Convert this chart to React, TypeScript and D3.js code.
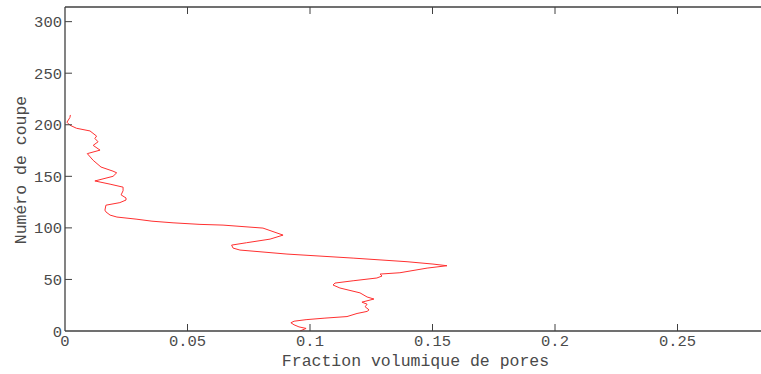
import React from "react";
import * as d3 from "d3";

// Slice number (Numéro de coupe) and pore volume fraction
const slices = [
  0, 2.5, 4, 6, 8, 9.5, 11, 12.5, 14, 17, 19, 20.5, 23.5, 26, 28, 31, 33, 37, 41.7, 44.6,
  46.5, 48.7, 51.4, 53.3, 55.2, 56.5, 61, 63.3, 64.9, 67.2, 70.7, 74.6, 78.5, 80.4, 83.3,
  85.6, 89.1, 93, 99.8, 102.7, 103.4, 104.9, 106.5, 108.5, 110.5, 112.4, 115.5, 117.2, 122,
  124.5, 127, 129, 132, 136, 139.5, 142.4, 145.5, 150, 153.4, 155, 159, 165.5, 172, 175.4,
  180, 183.5, 186.7, 189, 194, 196.6, 199.6, 202.5, 207, 209.5,
];
const fractions = [
  0.0959, 0.0984, 0.0955, 0.0935, 0.0922, 0.0935, 0.0984, 0.1061, 0.1151, 0.1192, 0.1233,
  0.1241, 0.1225, 0.1233, 0.1212, 0.1261, 0.1233, 0.1204, 0.1122, 0.1094, 0.1102, 0.1176,
  0.1273, 0.1294, 0.1286, 0.1367, 0.1478, 0.1559, 0.1502, 0.1396, 0.1176, 0.0906, 0.0714,
  0.0686, 0.068, 0.0741, 0.0837, 0.089, 0.0808, 0.0645, 0.0551, 0.0441, 0.0355, 0.029,
  0.0212, 0.0184, 0.0167, 0.0163, 0.0167, 0.0224, 0.0249, 0.0249, 0.0229, 0.0237, 0.0237,
  0.0184, 0.0122, 0.0196, 0.0211, 0.0196, 0.0147, 0.0115, 0.0091, 0.0143, 0.0115, 0.0135,
  0.0122, 0.0129, 0.0102, 0.0047, 0.002, 0.0008, 0.002, 0.0022,
];
const xTicks = [0, 0.05, 0.1, 0.15, 0.2, 0.25];
const xTickLabels = ["0", "0.05", "0.1", "0.15", "0.2", "0.25"];
const yTicks = [0, 50, 100, 150, 200, 250, 300];
const yTickLabels = ["0", "50", "100", "150", "200", "250", "300"];
const xLabel = "Fraction volumique de pores";
const yLabel = "Numéro de coupe";

const W = 761;
const H = 374;
const left = 65;
const top = 7;
const bottom = 331;
const xMaxDomain = 0.3;
const xRangeEnd = left + xMaxDomain * 2450;

export default function App() {
  const x = d3.scaleLinear().domain([0, xMaxDomain]).range([left, xRangeEnd]);
  const y = d3.scaleLinear().domain([0, 314.2]).range([bottom, top]);
  const pts = slices.map((s, i) => [fractions[i], s] as [number, number]);
  const line = d3
    .line<[number, number]>()
    .x((d) => x(d[0]))
    .y((d) => y(d[1]));
  const axisColor = "#404040";
  const textColor = "#4a4a4a";
  const font = "'Liberation Mono', 'Courier New', monospace";
  const tickLen = 7;
  return (
    <svg
      width={W}
      height={H}
      style={{ position: "absolute", left: 0, top: 0, background: "#fff" }}
    >
      <rect x={0} y={0} width={W} height={H} fill="#fff" />
      <defs>
        <clipPath id="plotclip">
          <rect x={left} y={top} width={xRangeEnd - left} height={bottom - top} />
        </clipPath>
      </defs>
      <path
        d={line(pts) || ""}
        fill="none"
        stroke="#ff3030"
        strokeWidth={1}
        clipPath="url(#plotclip)"
      />
      <line x1={left} y1={bottom} x2={W} y2={bottom} stroke={axisColor} strokeWidth={1.3} />
      <line x1={left} y1={top} x2={W} y2={top} stroke={axisColor} strokeWidth={1.3} />
      <line x1={left} y1={top} x2={left} y2={bottom} stroke={axisColor} strokeWidth={1.3} />
      {xTicks.map((t, i) => (
        <g key={"xt" + i}>
          {i > 0 && (
            <>
              <line x1={x(t)} y1={bottom} x2={x(t)} y2={bottom - tickLen} stroke={axisColor} strokeWidth={1} />
              <line x1={x(t)} y1={top} x2={x(t)} y2={top + tickLen} stroke={axisColor} strokeWidth={1} />
            </>
          )}
          <text
            x={x(t)}
            y={346}
            textAnchor="middle"
            fontFamily={font}
            fontSize={15.5}
            fill={textColor}
          >
            {xTickLabels[i]}
          </text>
        </g>
      ))}
      {yTicks.map((t, i) => (
        <g key={"yt" + i}>
          {i > 0 && (
            <line x1={left} y1={y(t)} x2={left + tickLen} y2={y(t)} stroke={axisColor} strokeWidth={1} />
          )}
          <text
            x={left - 3}
            y={y(t) + 5.5}
            textAnchor="end"
            fontFamily={font}
            fontSize={15.5}
            fill={textColor}
          >
            {yTickLabels[i]}
          </text>
        </g>
      ))}
      <text
        x={(280 + 551) / 2}
        y={366}
        textAnchor="middle"
        fontFamily={font}
        fontSize={16.5}
        fill={textColor}
      >
        {xLabel}
      </text>
      <text
        transform={`translate(26, 170) rotate(-90)`}
        textAnchor="middle"
        fontFamily={font}
        fontSize={16.5}
        fill={textColor}
      >
        {yLabel}
      </text>
    </svg>
  );
}
